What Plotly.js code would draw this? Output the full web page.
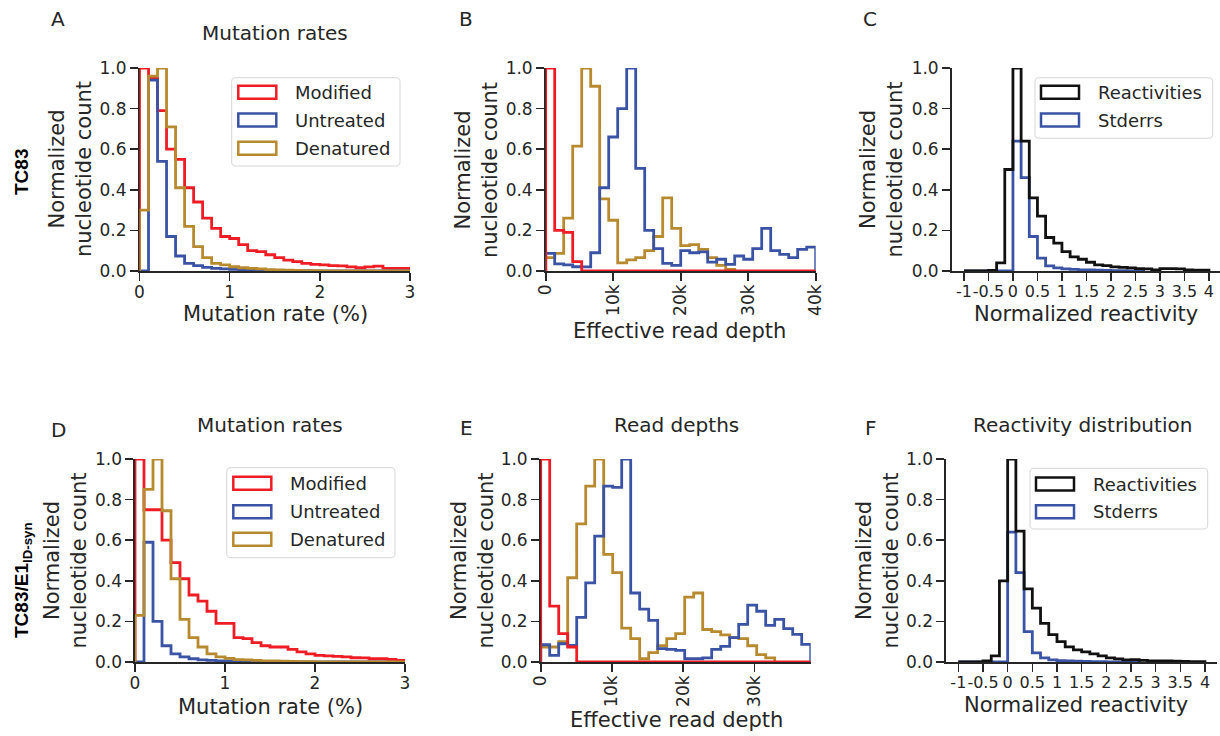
<!DOCTYPE html>
<html><head><meta charset="utf-8">
<script src="https://cdn.plot.ly/plotly-3.0.1.min.js"></script>
<style>html,body{margin:0;padding:0;background:#fff}</style>
</head><body><div id="chart" style="width:1220px;height:736px"></div>
<script>
// ---------------- data ----------------
// Mutation-rate histograms (bins start 0, width 0.1 %)
const mutBinStart = 0, mutBinWidth = 0.1;
const A_modified  = [1.0,0.95,0.79,0.60,0.55,0.41,0.34,0.26,0.21,0.17,0.16,0.13,0.10,0.095,0.08,0.066,0.054,0.046,0.038,0.033,0.03,0.026,0.025,0.02,0.016,0.02,0.024,0.013,0.013,0.013];
const A_untreated = [0,0.94,0.54,0.17,0.074,0.038,0.026,0.018,0.013,0.01,0.008,0.006,0.005,0.004,0.003,0.003,0.002,0.002,0.002,0.001,0.001,0.001,0.001,0.001,0.001,0.001,0.001,0.001,0.001,0.001];
const A_denatured = [0.30,0.96,1.0,0.71,0.41,0.22,0.12,0.066,0.038,0.03,0.021,0.016,0.013,0.01,0.007,0.005,0.004,0.003,0.002,0.002,0.001,0.001,0.001,0.001,0.001,0.001,0.001,0.001,0.001,0.001];
const D_modified  = [1.0,0.75,0.75,0.60,0.49,0.41,0.33,0.30,0.25,0.19,0.19,0.12,0.115,0.095,0.08,0.074,0.074,0.062,0.05,0.04,0.033,0.03,0.028,0.025,0.021,0.02,0.016,0.016,0.013,0.008];
const D_untreated = [0,0.59,0.20,0.08,0.04,0.025,0.016,0.01,0.008,0.006,0.005,0.004,0.003,0.003,0.002,0.002,0.002,0.001,0.001,0.001,0.001,0.001,0.001,0.001,0.001,0.001,0.001,0.001,0.001,0.001];
const D_denatured = [0.23,0.85,1.0,0.745,0.41,0.21,0.12,0.074,0.04,0.025,0.018,0.012,0.01,0.008,0.006,0.005,0.004,0.003,0.002,0.002,0.001,0.001,0.001,0.001,0.001,0.001,0.001,0.001,0.001,0.001];

// Read-depth histograms (30 bins from 0)
const B_binStart = 0, B_binWidth = 40000/30;
const E_binStart = 0, E_binWidth = 37900/30;
const B_modified  = [1.0,0.2,0.19,0.046,0,0,0,0,0,0,0,0,0,0,0,0,0,0,0,0,0,0,0,0,0,0,0,0,0,0];
const B_untreated = [0.087,0.035,0.03,0.021,0.02,0.09,0.41,0.66,0.80,1.0,0.506,0.2,0.11,0.038,0.028,0.10,0.09,0.094,0.044,0.058,0.033,0.074,0.058,0.11,0.21,0.10,0.082,0.066,0.107,0.118];
const B_denatured = [0.066,0.087,0.26,0.615,1.0,0.91,0.355,0.25,0.04,0.055,0.066,0.10,0.17,0.36,0.21,0.125,0.13,0.107,0.066,0.028,0.008];
const E_modified  = [1.0,0.275,0.14,0.074,0,0,0,0,0,0,0,0,0,0,0,0,0,0,0,0,0,0,0,0,0,0,0,0,0,0];
const E_untreated = [0.085,0.033,0.09,0.082,0.22,0.39,0.62,0.866,0.86,1.0,0.34,0.26,0.205,0.066,0.062,0.057,0.016,0.016,0.02,0.062,0.077,0.12,0.185,0.28,0.25,0.18,0.21,0.164,0.136,0.087];
const E_denatured = [0.074,0.074,0.10,0.415,0.68,0.866,1.0,0.53,0.44,0.167,0.115,0.016,0.046,0.08,0.115,0.14,0.32,0.34,0.16,0.15,0.134,0.12,0.115,0.08,0.036,0.02];

// Reactivity histograms (bins from -1, width 1/6)
const R_binStart = -1, R_binWidth = 5/30;
const C_reactivities = [0,0,0,0.003,0.04,0.50,1.0,0.64,0.36,0.27,0.165,0.137,0.095,0.07,0.058,0.043,0.03,0.026,0.02,0.018,0.015,0.012,0.01,0.006,0.012,0.012,0.01,0.006,0.004,0.004];
const C_stderrs      = [0,0,0,0,0,0,0.64,0.46,0.17,0.063,0.025,0.015,0.01,0.008,0.006,0.005,0.004,0.003,0.002,0.002,0.001,0.001];
const F_reactivities = [0,0,0,0.005,0.03,0.40,1.0,0.645,0.36,0.265,0.19,0.135,0.10,0.075,0.06,0.05,0.04,0.03,0.02,0.015,0.01,0.012,0.008,0.006,0.005,0.005,0.004,0.003,0.002,0.002];
const F_stderrs      = [0,0,0,0,0,0,0.64,0.44,0.15,0.045,0.02,0.01,0.007,0.005,0.004,0.003,0.002,0.002,0.001,0.001,0.001,0.001];

const seriesNames = ['Modified','Untreated','Denatured'];
const reactNames = ['Reactivities','Stderrs'];
const yTicks = [0,0.2,0.4,0.6,0.8,1.0];
const yTickText = ['0.0','0.2','0.4','0.6','0.8','1.0'];
const mutTicks = [0,1,2,3];
const mutText = ['0','1','2','3'];
const depthTicksB = [0,10000,20000,30000,40000];
const depthTextB = ['0','10k','20k','30k','40k'];
const depthTicksE = [0,10000,20000,30000];
const depthTextE = ['0','10k','20k','30k'];
const reactTicks = [-1,-0.5,0,0.5,1,1.5,2,2.5,3,3.5,4];
const reactText = ['-1','-0.5','0','0.5','1','1.5','2','2.5','3','3.5','4'];

// ---------------- style ----------------
const W = 1220, H = 736;
const RED = '#ee1d25', BLUE = '#3a53a4', GOLD = '#b88a2f', BLACK = '#111111';
const INK = '#262626';
const FONT = 'DejaVu Sans';
const LW = 2.8;

function stepTrace(start, width, vals, color, name, xa, ya) {
  const x = [start], y = [0];
  for (let i = 0; i < vals.length; i++) { x.push(start + (i + 1) * width); y.push(vals[i]); }
  x.push(start + vals.length * width); y.push(0);
  return {type:'scatter', mode:'lines', x, y, name, showlegend:false,
    line:{color, width:LW, shape:'vh'}, xaxis:xa, yaxis:ya, hoverinfo:'skip'};
}

const traces = [
  stepTrace(mutBinStart, mutBinWidth, A_modified, RED, seriesNames[0], 'x', 'y'),
  stepTrace(mutBinStart, mutBinWidth, A_untreated, BLUE, seriesNames[1], 'x', 'y'),
  stepTrace(mutBinStart, mutBinWidth, A_denatured, GOLD, seriesNames[2], 'x', 'y'),
  stepTrace(B_binStart, B_binWidth, B_denatured, GOLD, seriesNames[2], 'x2', 'y2'),
  stepTrace(B_binStart, B_binWidth, B_untreated, BLUE, seriesNames[1], 'x2', 'y2'),
  stepTrace(B_binStart, B_binWidth, B_modified, RED, seriesNames[0], 'x2', 'y2'),
  stepTrace(R_binStart, R_binWidth, C_stderrs, BLUE, reactNames[1], 'x3', 'y3'),
  stepTrace(R_binStart, R_binWidth, C_reactivities, BLACK, reactNames[0], 'x3', 'y3'),
  stepTrace(mutBinStart, mutBinWidth, D_untreated, BLUE, seriesNames[1], 'x4', 'y4'),
  stepTrace(mutBinStart, mutBinWidth, D_modified, RED, seriesNames[0], 'x4', 'y4'),
  stepTrace(mutBinStart, mutBinWidth, D_denatured, GOLD, seriesNames[2], 'x4', 'y4'),
  stepTrace(E_binStart, E_binWidth, E_denatured, GOLD, seriesNames[2], 'x5', 'y5'),
  stepTrace(E_binStart, E_binWidth, E_untreated, BLUE, seriesNames[1], 'x5', 'y5'),
  stepTrace(E_binStart, E_binWidth, E_modified, RED, seriesNames[0], 'x5', 'y5'),
  stepTrace(R_binStart, R_binWidth, F_stderrs, BLUE, reactNames[1], 'x6', 'y6'),
  stepTrace(R_binStart, R_binWidth, F_reactivities, BLACK, reactNames[0], 'x6', 'y6'),
];

const px = p => p / W, py = p => 1 - p / H;

function xAxis(d0, d1, range, tickvals, ticktext, anchor, angle, fsize) {
  return {domain:[px(d0), px(d1)], range, anchor, tickvals, ticktext,
    tickangle: angle === undefined ? 0 : angle, ticklabelstandoff: -3,
    showline:true, linecolor:INK, linewidth:1.6, ticks:'outside', ticklen:8, tickwidth:1.6, tickcolor:INK,
    showgrid:false, zeroline:false, fixedrange:true, layer:'below traces',
    tickfont:{family:FONT, size: fsize || 17, color:INK}};
}
function yAxis(d0, d1, anchor) {
  return {domain:[py(d1), py(d0)], range:[0,1], anchor, tickvals:yTicks, ticktext:yTickText,
    showline:true, linecolor:INK, linewidth:1.6, ticks:'outside', ticklen:8, tickwidth:1.6, tickcolor:INK,
    showgrid:false, zeroline:false, fixedrange:true, layer:'below traces',
    tickfont:{family:FONT, size:17, color:INK}};
}

const layout = {
  width:W, height:H, autosize:false, margin:{l:0,r:0,t:0,b:0},
  paper_bgcolor:'#fff', plot_bgcolor:'rgba(0,0,0,0)', showlegend:false,
  xaxis:  xAxis(139.5, 410, [0,3], mutTicks, mutText, 'y'),
  yaxis:  yAxis(68, 271, 'x'),
  xaxis2: xAxis(545.7, 815.7, [0,40000], depthTicksB, depthTextB, 'y2', -90),
  yaxis2: yAxis(68, 271, 'x2'),
  xaxis3: xAxis(951.7, 1220, [-1.25,4.226], reactTicks, reactText, 'y3', 0, 16),
  yaxis3: yAxis(68, 271, 'x3'),
  xaxis4: xAxis(135, 405, [0,3], mutTicks, mutText, 'y4'),
  yaxis4: yAxis(459, 662, 'x4'),
  xaxis5: xAxis(540.7, 810.7, [0,37900], depthTicksE, depthTextE, 'y5', -90),
  yaxis5: yAxis(459, 662, 'x5'),
  xaxis6: xAxis(946, 1217.3, [-1.25,4.25], reactTicks, reactText, 'y6', 0, 16),
  yaxis6: yAxis(459, 662, 'x6'),
  annotations: [], shapes: []
};

function txt(x, y, text, size, opts) {
  layout.annotations.push(Object.assign({xref:'paper', yref:'paper', x:px(x), y:py(y), text,
    showarrow:false, xanchor:'center', yanchor:'middle',
    font:{family:FONT, size, color:INK}}, opts || {}));
}
// panel letters
txt(58, 19, 'A', 20); txt(466, 19, 'B', 20); txt(870, 19, 'C', 20);
txt(58, 430, 'D', 20); txt(466, 428, 'E', 20); txt(871, 428, 'F', 20);
// titles
txt(275, 33, 'Mutation rates', 20);
txt(270, 425, 'Mutation rates', 20);
txt(676, 425, 'Read depths', 20);
txt(1082, 425, 'Reactivity distribution', 20);
// x labels
txt(275, 314, 'Mutation rate (%)', 21);
txt(680, 331, 'Effective read depth', 21);
txt(1086, 314, 'Normalized reactivity', 21);
txt(270, 707, 'Mutation rate (%)', 21);
txt(676, 720, 'Effective read depth', 21);
txt(1076, 705, 'Normalized reactivity', 21);
// y labels
const ylab = 'Normalized<br>nucleotide count';
txt(70.5, 169.5, ylab, 21, {textangle:-90});
txt(476.5, 169.5, ylab, 21, {textangle:-90});
txt(881, 169.5, ylab, 21, {textangle:-90});
txt(65, 560.5, ylab, 21, {textangle:-90});
txt(472, 560.5, ylab, 21, {textangle:-90});
txt(877, 560.5, ylab, 21, {textangle:-90});
// row labels
txt(21, 172, '<b>TC83</b>', 19, {textangle:-90, font:{family:'Liberation Sans', size:19, color:'#000'}});
txt(23, 580, '<b>TC83/E1<sub>ID-syn</sub></b>', 19, {textangle:-90, font:{family:'Liberation Sans', size:19, color:'#000'}});

// legends
function roundRect(x0, y0, x1, y1, r) {
  const X = v => px(v).toFixed(5), Y = v => py(v).toFixed(5);
  return `M${X(x0+r)},${Y(y0)} L${X(x1-r)},${Y(y0)} Q${X(x1)},${Y(y0)} ${X(x1)},${Y(y0+r)} ` +
    `L${X(x1)},${Y(y1-r)} Q${X(x1)},${Y(y1)} ${X(x1-r)},${Y(y1)} L${X(x0+r)},${Y(y1)} ` +
    `Q${X(x0)},${Y(y1)} ${X(x0)},${Y(y1-r)} L${X(x0)},${Y(y0+r)} Q${X(x0)},${Y(y0)} ${X(x0+r)},${Y(y0)} Z`;
}
function legend(fx0, fy0, fx1, fy1, rx, tx, ys, names, colors) {
  layout.shapes.push({type:'path', xref:'paper', yref:'paper', path:roundRect(fx0, fy0, fx1, fy1, 4),
    line:{color:'#d6d6d6', width:1}, fillcolor:'rgba(255,255,255,0.8)'});
  names.forEach((n, i) => {
    layout.shapes.push({type:'rect', xref:'paper', yref:'paper',
      x0:px(rx), x1:px(rx+38), y0:py(ys[i]-6.5), y1:py(ys[i]+6.5),
      line:{color:colors[i], width:2.5}, fillcolor:'rgba(0,0,0,0)'});
    txt(tx, ys[i], n, 18, {xanchor:'left'});
  });
}
legend(231.7, 77.7, 400, 166, 238.3, 293, [92.3,120,148.3], seriesNames, [RED,BLUE,GOLD]);
legend(226.7, 467.7, 395, 557.7, 233.3, 288.3, [483.3,511.7,539.3], seriesNames, [RED,BLUE,GOLD]);
legend(1035, 77.7, 1212.7, 138.3, 1041, 1096, [92.3,120], reactNames, [BLACK,BLUE]);
legend(1030, 468.3, 1207.7, 529, 1036, 1091, [484,511.7], reactNames, [BLACK,BLUE]);

Plotly.newPlot('chart', traces, layout, {displayModeBar:false, staticPlot:true});
</script></body></html>
